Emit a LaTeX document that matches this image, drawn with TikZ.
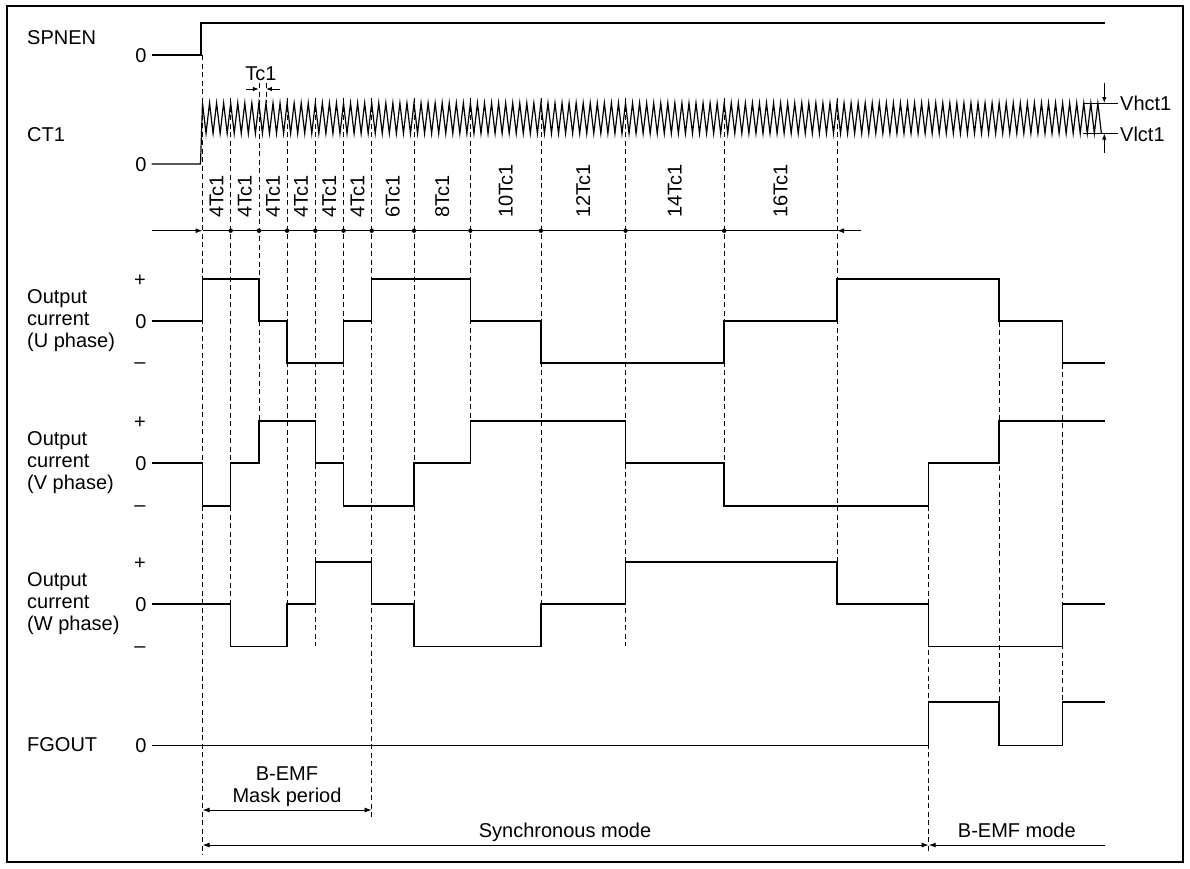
\documentclass[tikz,border=0pt]{standalone}
\usepackage{fontspec}
\setmainfont{Liberation Sans}
\usetikzlibrary{arrows.meta}
\begin{document}
\begin{tikzpicture}[x=1pt,y=-1pt,
  sig/.style={line width=1.5pt, line join=miter},
  guide/.style={line width=0.8pt, dash pattern=on 5pt off 3.5pt},
  lbl/.style={font=\fontsize{20}{22}\selectfont, inner sep=0pt},
  lvl/.style={font=\fontsize{20}{22}\selectfont, inner sep=0pt, anchor=base},
  dim/.style={line width=1pt},
  tip/.style={-{Latex[length=7pt,width=5pt]}},
  tips/.style={{Latex[length=7pt,width=5pt]}-{Latex[length=7pt,width=5pt]}},
  smalltip/.style={-{Latex[length=6pt,width=4.5pt]}},
  dot/.style={fill=black}
]
\useasboundingbox (0,0) rectangle (1190,868);
\draw[line width=1.2pt] (7,6) rectangle (1183,862);

% guide lines
\draw[guide] (202.5,55) -- (202.5,855);
\draw[guide] (230.7,98) -- (230.7,646);
\draw[guide] (258.9,83) -- (258.9,463);
\draw[guide] (265.95,83) -- (265.95,103);
\draw[guide] (287.1,98) -- (287.1,646);
\draw[guide] (315.3,98) -- (315.3,646);
\draw[guide] (343.5,98) -- (343.5,506);
\draw[guide] (371.7,98) -- (371.7,818);
\draw[guide] (414.0,98) -- (414.0,646);
\draw[guide] (470.4,98) -- (470.4,463);
\draw[guide] (540.9,98) -- (540.9,646);
\draw[guide] (625.5,98) -- (625.5,646);
\draw[guide] (724.2,98) -- (724.2,506);
\draw[guide] (837.0,98) -- (837.0,604);
\draw[guide] (928.7,463) -- (928.7,852);
\draw[guide] (999.2,279) -- (999.2,702);
\draw[guide] (1062.6,321) -- (1062.6,745);

% left labels
\node[lbl, anchor=west] (spnen) at (27,38) {SPNEN};
\node[lbl, anchor=west] (ct1) at (27,135) {CT1};
\node[lbl, anchor=west, align=left] (uph) at (27,321) {Output\\current\\(U phase)};
\node[lbl, anchor=west, align=left] (vph) at (27,463) {Output\\current\\(V phase)};
\node[lbl, anchor=west, align=left] (wph) at (27,604) {Output\\current\\(W phase)};
\node[lbl, anchor=west] (fgout) at (27,745) {FGOUT};

% level marks
\node[lvl] (z1) at (141,62.2) {0};
\node[lvl] (z2) at (141,171.2) {0};
\node[lvl] (pu) at (140,286) {+};
\node[lvl] (zu) at (141,328.2) {0};
\node[lvl] (mu) at (140,368.5) {\textendash};
\node[lvl] (pv) at (140,428) {+};
\node[lvl] (zv) at (141,470.2) {0};
\node[lvl] (mv) at (140,511.5) {\textendash};
\node[lvl] (pw) at (140,569) {+};
\node[lvl] (zw) at (141,611.2) {0};
\node[lvl] (mw) at (140,652.5) {\textendash};
\node[lvl] (zf) at (141,752.2) {0};

% SPNEN
\draw[sig] (151.7,55) -- (201,55) -- (201,23) -- (1105,23);
% CT1
\draw[line width=1.2pt, line join=miter] (151.7,164) -- (200.5,164) -- (202.5,103)
  \foreach \k in {0,...,126}{ -- ({202.5+(\k+0.5)*7.05},133.5) -- ({202.5+(\k+1)*7.05},103) }
  -- (1101.4,133.5);
% U phase
\draw[sig] (151.7,321) -- (202.5,321) -- (202.5,279) -- (258.9,279) -- (258.9,321)
  -- (287.1,321) -- (287.1,363) -- (343.5,363) -- (343.5,321) -- (371.7,321) -- (371.7,279)
  -- (470.4,279) -- (470.4,321) -- (540.9,321) -- (540.9,363) -- (724.2,363) -- (724.2,321)
  -- (837,321) -- (837,279) -- (999.2,279) -- (999.2,321) -- (1062.6,321) -- (1062.6,363) -- (1105,363);
% V phase
\draw[sig] (151.7,463) -- (202.5,463) -- (202.5,506) -- (230.7,506) -- (230.7,463)
  -- (258.9,463) -- (258.9,421) -- (315.3,421) -- (315.3,463) -- (343.5,463) -- (343.5,506)
  -- (414,506) -- (414,463) -- (470.4,463) -- (470.4,421) -- (625.5,421) -- (625.5,463)
  -- (724.2,463) -- (724.2,506) -- (928.7,506) -- (928.7,463) -- (999.2,463) -- (999.2,421) -- (1105,421);
% W phase
\draw[sig] (151.7,604) -- (230.7,604) -- (230.7,646.5) -- (287.1,646.5) -- (287.1,604)
  -- (315.3,604) -- (315.3,562) -- (371.7,562) -- (371.7,604) -- (414,604) -- (414,646.5)
  -- (540.9,646.5) -- (540.9,604) -- (625.5,604) -- (625.5,562) -- (837,562) -- (837,604)
  -- (928.7,604) -- (928.7,646.5) -- (1062.6,646.5) -- (1062.6,604) -- (1105,604);
% FGOUT
\draw[sig] (151.7,745.5) -- (928.7,745.5) -- (928.7,702) -- (999.2,702) -- (999.2,745.5)
  -- (1062.6,745.5) -- (1062.6,702) -- (1105,702);

% Tc1
\node[lbl] (tc) at (261,74) {Tc1};
\coordinate (tcA) at (246,89);
\coordinate (tcB) at (258.9,89);
\coordinate (tcC) at (280,89);
\coordinate (tcD) at (265.95,89);
\draw[dim, smalltip] (tcA) -- (tcB);
\draw[dim, smalltip] (tcC) -- (tcD);

% Vhct1 / Vlct1
\draw[dim] (1083,103) -- (1118,103);
\draw[dim] (1083,133.5) -- (1118,133.5);
\draw[dim, smalltip] (1104.3,82.7) -- (1104.3,103);
\draw[dim, smalltip] (1104.3,153) -- (1104.3,133.5);
\node[lbl, anchor=west] (vh) at (1120,103) {Vhct1};
\node[lbl, anchor=west] (vl) at (1120,134) {Vlct1};

% interval labels
\foreach \x/\t in {216.6/4Tc1, 244.8/4Tc1, 273/4Tc1, 301.2/4Tc1, 329.4/4Tc1, 357.6/4Tc1,
  392.85/6Tc1, 442.2/8Tc1, 505.65/10Tc1, 583.2/12Tc1, 674.85/14Tc1, 780.6/16Tc1}
  \node[lbl, rotate=90, anchor=west] at (\x,218) {\t};

% interval axis
\coordinate (axL) at (151.7,230.7);
\coordinate (ax0) at (202.5,230.7);
\coordinate (axE) at (837,230.7);
\coordinate (axR) at (860.7,230.7);
\draw[dim, tip] (axL) -- (ax0);
\draw[dim] (ax0) -- (axE);
\draw[dim, tip] (axR) -- (axE);
\foreach \x in {230.7,258.9,287.1,315.3,343.5,371.7,414.0,470.4,540.9,625.5,724.2}
  \fill[dot] (\x,230.7) circle (2.2pt);

% bottom
\node[lbl, align=center, anchor=south] (mask) at (287,807) {\fontsize{20}{20}\selectfont B-EMF\\Mask period};
\coordinate (mA) at (202.5,810);
\coordinate (mB) at (371.7,810);
\draw[dim, tips] (mA) -- (mB);
\coordinate (sA) at (202.5,845);
\coordinate (sB) at (928.7,845);
\coordinate (sC) at (1105,845);
\draw[dim, tips] (sA) -- (sB);
\draw[dim, tip] (sC) -- (sB);
\node[lvl] (sync) at (565,837) {Synchronous mode};
\node[lvl] (bemf) at (1016.8,837) {B-EMF mode};
\end{tikzpicture}
\end{document}
